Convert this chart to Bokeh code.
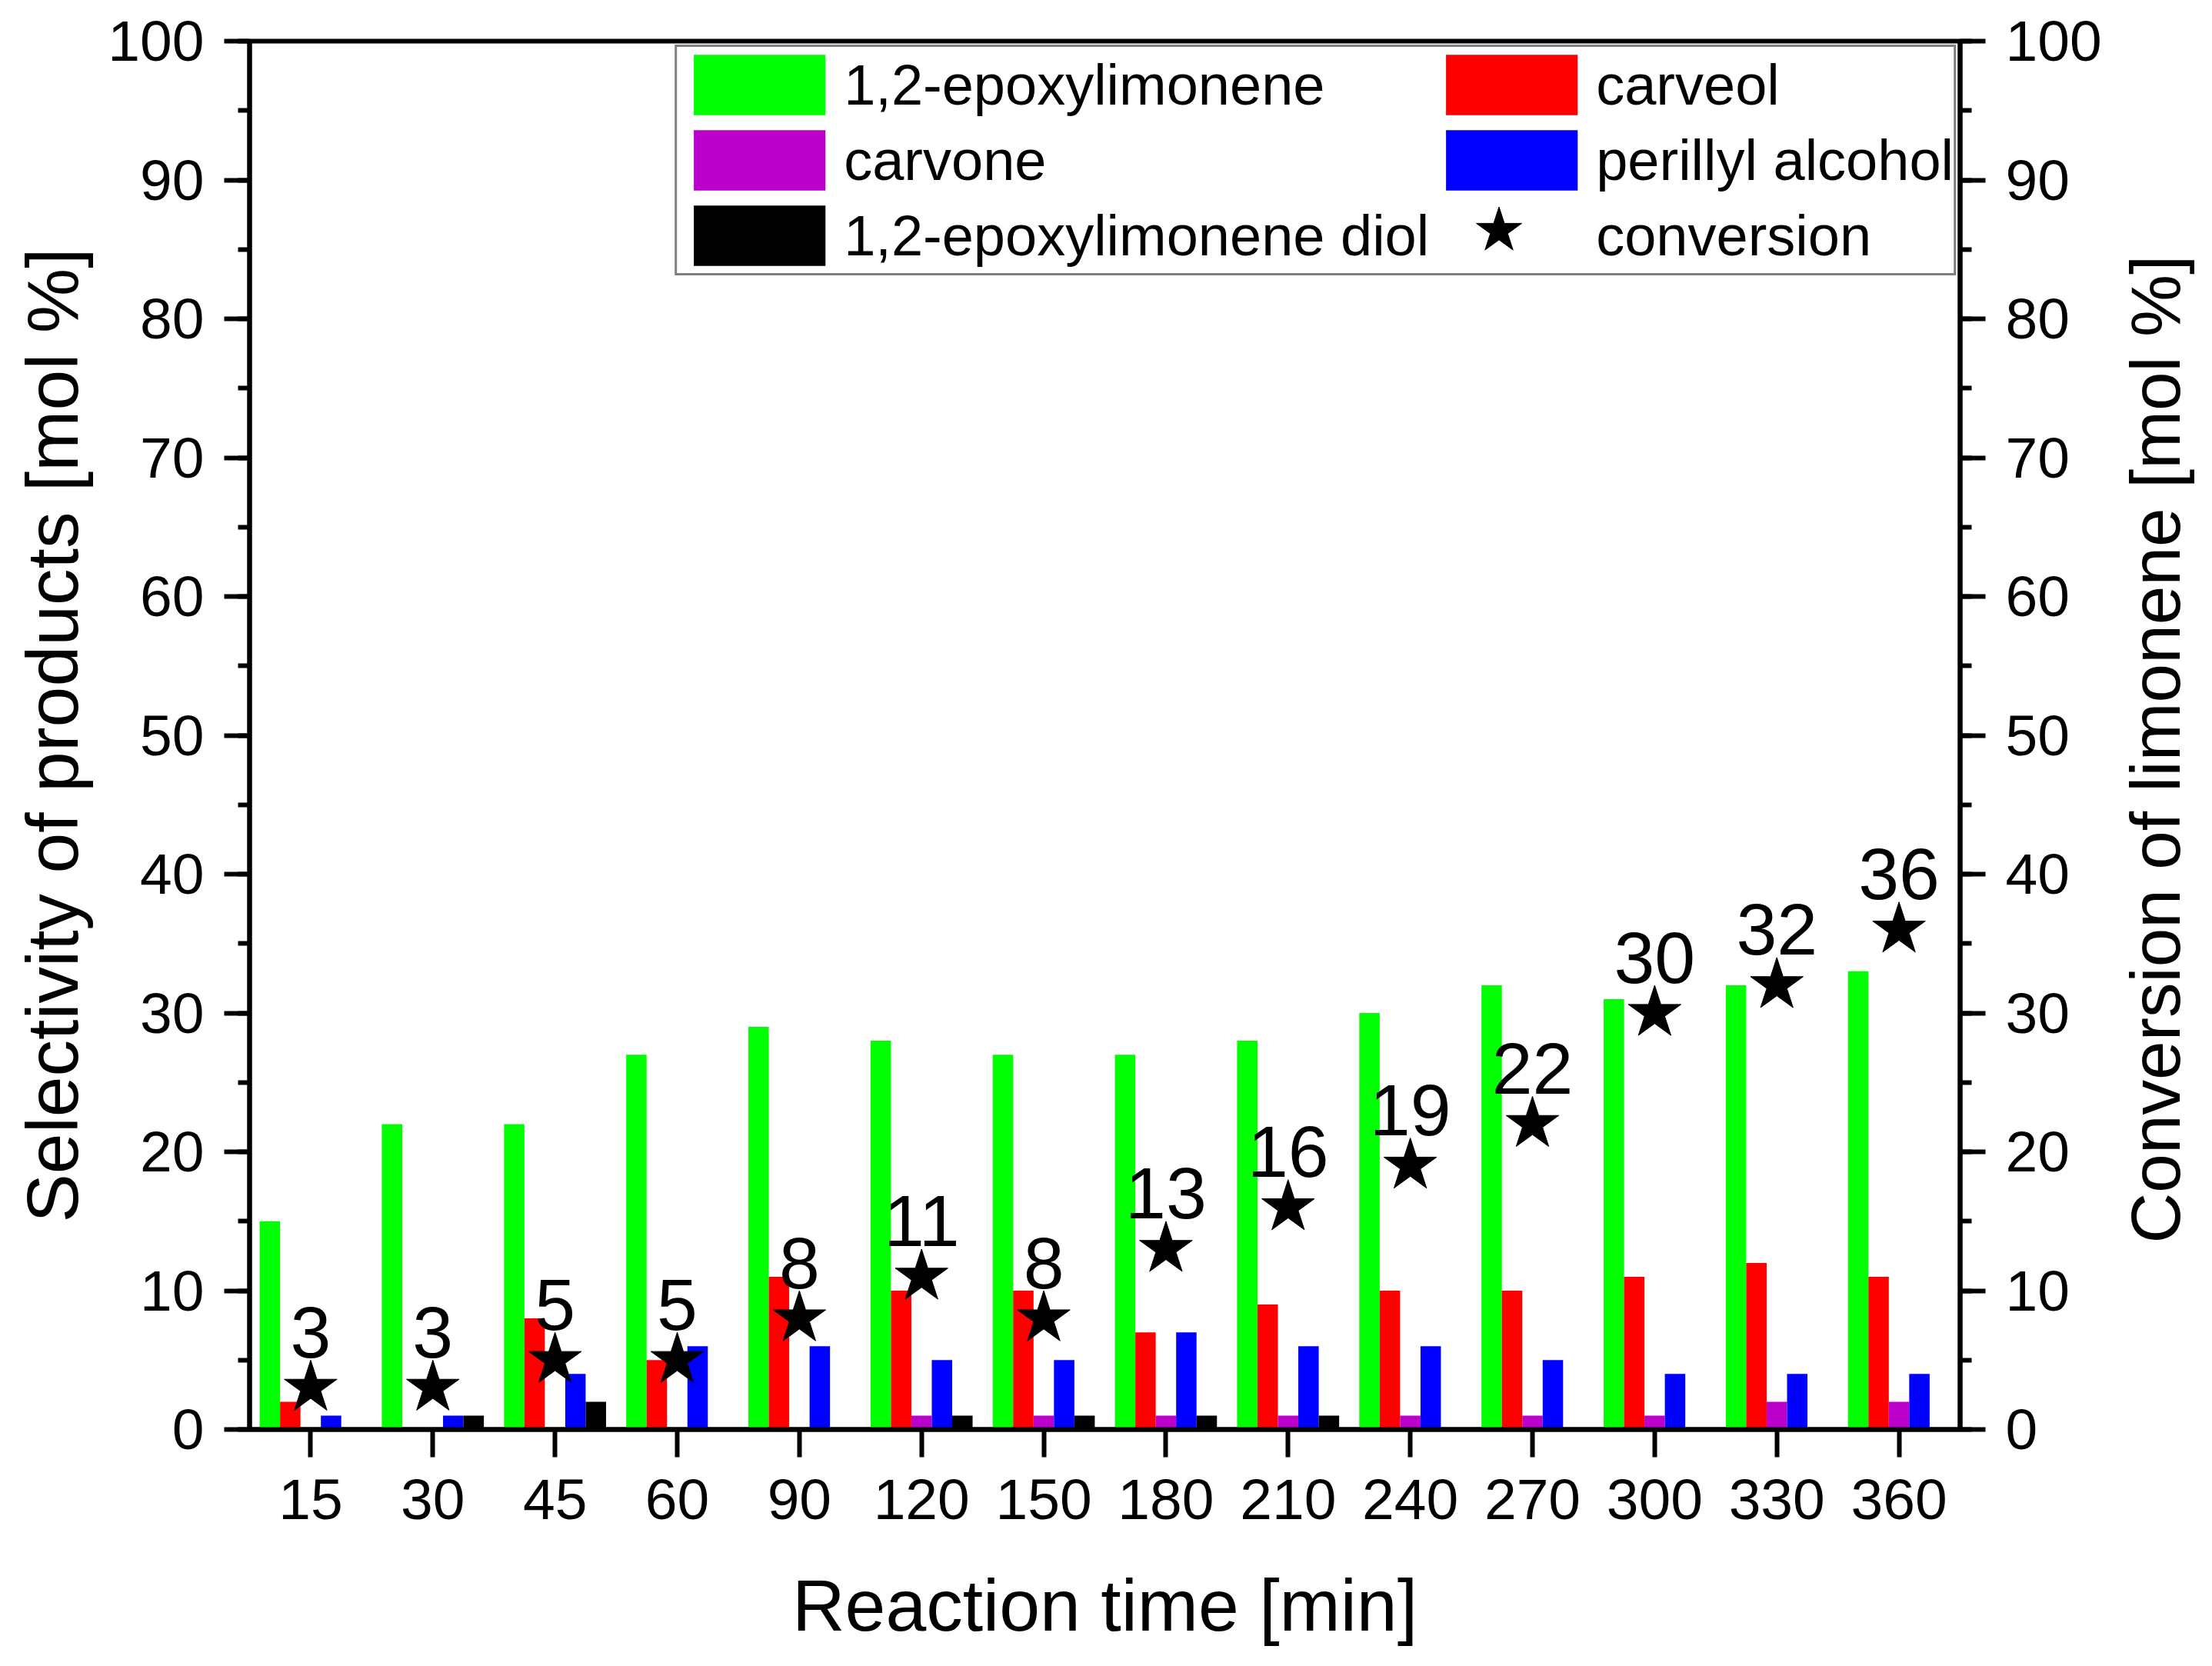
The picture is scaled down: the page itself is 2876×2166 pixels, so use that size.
import math
from bokeh.plotting import figure
from bokeh.models import (Range1d, LinearAxis, FixedTicker, SingleIntervalTicker,
                          ColumnDataSource, Legend, LegendItem, Label)
from bokeh.transform import dodge
from bokeh.core.properties import value
from bokeh.embed import file_html
from bokeh.resources import INLINE

# ---- data ----
times = ["15", "30", "45", "60", "90", "120", "150", "180", "210", "240", "270", "300", "330", "360"]
epoxylimonene = [15, 22, 22, 27, 29, 28, 27, 27, 28, 30, 32, 31, 32, 33]
carveol = [2, 0, 8, 5, 11, 10, 10, 7, 9, 10, 10, 11, 12, 11]
carvone = [0, 0, 0, 0, 0, 1, 1, 1, 1, 1, 1, 1, 2, 2]
perillyl_alcohol = [1, 1, 4, 6, 6, 5, 5, 7, 6, 6, 5, 4, 4, 4]
epoxy_diol = [0, 1, 2, 0, 0, 1, 1, 1, 1, 0, 0, 0, 0, 0]
conversion = [3, 3, 5, 5, 8, 11, 8, 13, 16, 19, 22, 30, 32, 36]

series_names = ["1,2-epoxylimonene", "carveol", "carvone", "perillyl alcohol", "1,2-epoxylimonene diol"]
series_keys = ["epoxy", "carveol", "carvone", "perillyl", "diol"]
series_colors = ["#00FF00", "#FF0000", "#BB00CC", "#0000FF", "#000000"]

FONT = "Liberation Sans"

src = ColumnDataSource(dict(
    idx=list(range(len(times))),
    epoxy=epoxylimonene, carveol=carveol, carvone=carvone,
    perillyl=perillyl_alcohol, diol=epoxy_diol,
    conv=conversion, conv_label=[str(v) for v in conversion],
))

p = figure(frame_width=2224, frame_height=1805,
           x_range=Range1d(-0.5, len(times) - 0.5), y_range=Range1d(0, 100),
           output_backend="svg", toolbar_location=None,
           min_border_left=324, min_border_right=312,
           min_border_top=53, min_border_bottom=292)
p.extra_y_ranges = {"conv": Range1d(0, 100)}

bw = 0.167
rends = {}
for k, (key, color) in enumerate(zip(series_keys, series_colors)):
    rends[key] = p.vbar(x=dodge("idx", (k - 2) * bw, range=p.x_range), top=key, width=bw,
                        source=src, fill_color=color, line_color=None)

star = p.scatter("idx", "conv", marker="star", size=72, color="black",
                 y_range_name="conv", source=src)
p.text("idx", "conv", text="conv_label", y_range_name="conv", source=src,
       text_align="center", text_baseline="alphabetic", y_offset=-72,
       text_font=value(FONT), text_font_size="95px", text_color="black")

# placeholder (draws nothing) so the "conversion" text keeps its slot in the main legend
blank_src = ColumnDataSource(dict(x=[], y=[]))
blank = p.scatter("x", "y", source=blank_src, marker="star", fill_alpha=0, line_alpha=0)

items = [
    LegendItem(label=series_names[0], renderers=[rends["epoxy"]]),
    LegendItem(label=series_names[1], renderers=[rends["carveol"]]),
    LegendItem(label=series_names[2], renderers=[rends["carvone"]]),
    LegendItem(label=series_names[3], renderers=[rends["perillyl"]]),
    LegendItem(label=series_names[4], renderers=[rends["diol"]]),
    LegendItem(label="conversion", renderers=[blank]),
]
legend = Legend(items=items, location="top_right", orientation="horizontal", ncols=2,
                margin=5, padding=0, spacing=0, label_standoff=3,
                glyph_width=214, glyph_height=98,
                label_text_font=FONT, label_text_font_size="74px", label_text_color="black",
                border_line_color="black", border_line_width=3,
                background_fill_color="white", background_fill_alpha=1.0)
p.add_layout(legend)

# larger star symbol for the "conversion" legend entry
legend_star = Legend(items=[LegendItem(label=" ", renderers=[star])],
                     location=(1547, 1481), padding=0, spacing=0, margin=0,
                     label_standoff=0, glyph_width=155, glyph_height=155,
                     label_text_font_size="10px",
                     border_line_alpha=0, background_fill_alpha=0)
p.add_layout(legend_star)

p.xgrid.visible = False
p.ygrid.visible = False
p.outline_line_color = "black"
p.outline_line_width = 6
p.outline_line_alpha = 1.0


def style(ax):
    ax.axis_line_width = 6
    ax.axis_line_color = "black"
    ax.major_tick_line_width = 6
    ax.minor_tick_line_width = 6
    ax.major_tick_line_color = "black"
    ax.minor_tick_line_color = "black"
    ax.major_tick_in = 0
    ax.minor_tick_in = 0
    ax.major_label_text_font = FONT
    ax.major_label_text_font_size = "75px"
    ax.major_label_text_color = "black"
    ax.axis_label_text_font = FONT
    ax.axis_label_text_font_size = "95px"
    ax.axis_label_text_font_style = "normal"
    ax.axis_label_text_color = "black"


xa = p.xaxis[0]
style(xa)
xa.ticker = FixedTicker(ticks=list(range(len(times))), minor_ticks=[])
xa.major_label_overrides = {i: t for i, t in enumerate(times)}
xa.axis_label = "Reaction time [min]"
xa.major_tick_out = 36
xa.major_label_standoff = 29
xa.axis_label_standoff = 56

ya = p.yaxis[0]
style(ya)
ya.ticker = SingleIntervalTicker(interval=10, num_minor_ticks=2)
ya.axis_label = "Selectivity of products [mol %]"
ya.major_tick_out = 33
ya.minor_tick_out = 15
ya.major_label_standoff = 26
ya.axis_label_standoff = 16

ra = LinearAxis(y_range_name="conv",
                ticker=SingleIntervalTicker(interval=10, num_minor_ticks=2))
style(ra)
ra.major_tick_out = 33
ra.minor_tick_out = 15
ra.major_label_standoff = 26
p.add_layout(ra, "right")

# right axis title, reading bottom-to-top like the left one (placed in the right side panel)
right_title = Label(x=15.10, y=49, x_units="data", y_units="data",
                    text="Conversion of limonene [mol %]", angle=math.pi / 2,
                    text_align="center", text_baseline="middle",
                    text_font=FONT, text_font_size="91px", text_color="black")
p.add_layout(right_title, "right")

open("out.html", "w").write(file_html(p, INLINE))
